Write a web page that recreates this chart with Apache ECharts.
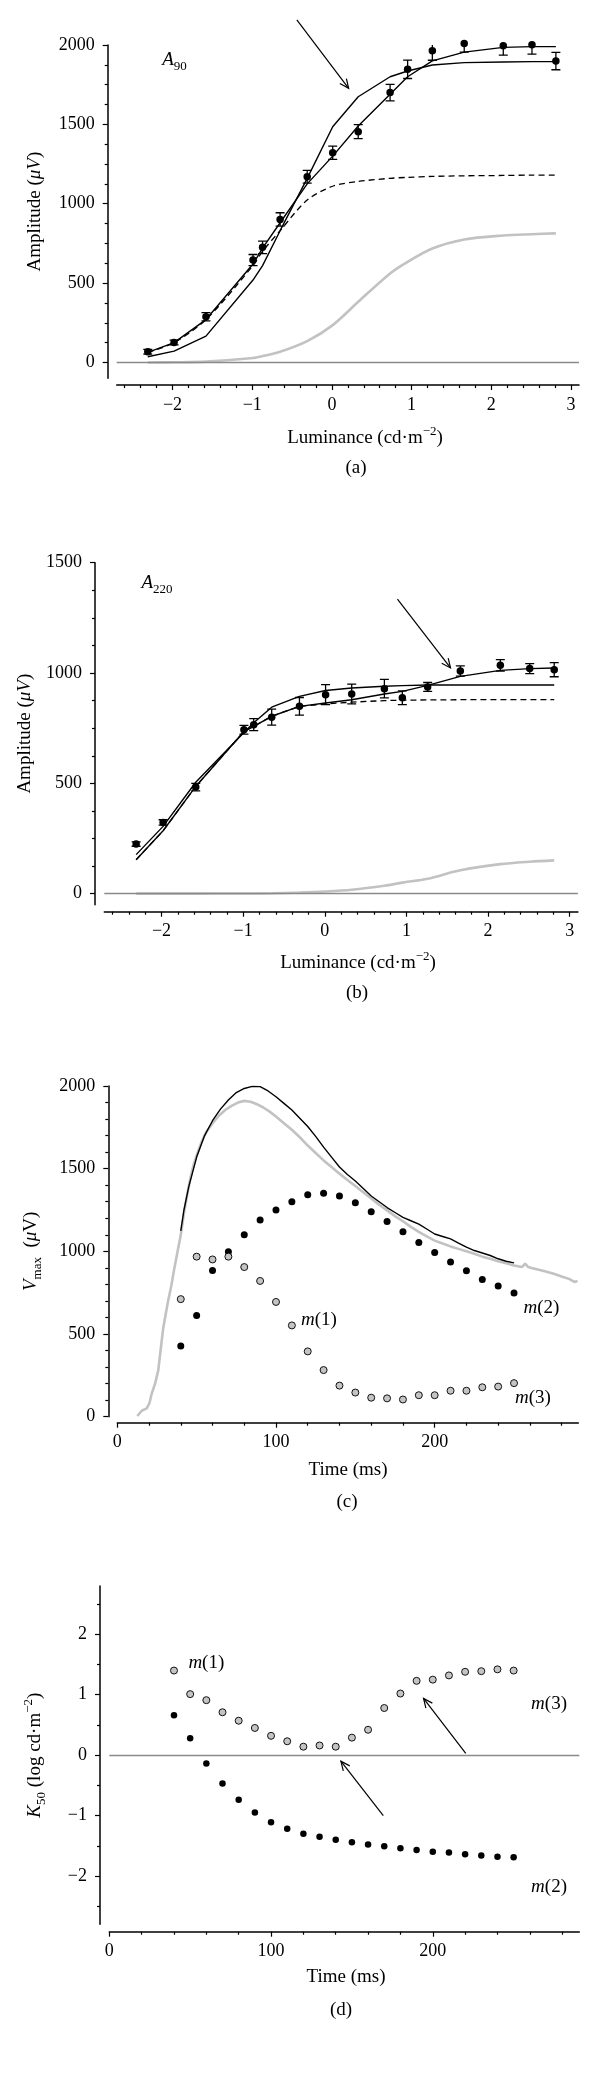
<!DOCTYPE html>
<html><head><meta charset="utf-8">
<script src="https://cdn.jsdelivr.net/npm/echarts@6/dist/echarts.min.js"></script>
<style>html,body{margin:0;padding:0;background:#fff}#c{width:600px;height:2078px}</style>
</head><body><div id="c"></div>
<script>
// ---------- DATA ----------
// Panels (a) and (b): luminance (log cd·m^-2)
const lumX = [-2.31,-1.98,-1.58,-0.99,-0.87,-0.65,-0.31,0.01,0.33,0.73,0.95,1.26,1.66,2.15,2.51,2.81];
const a90Mean = [67,126,288,645,725,901,1170,1321,1454,1700,1847,1964,2010,1996,2002,1899];
const a90Err  = [15,15,26,35,39,42,40,42,44,52,58,60,55,60,60,55];
const a90FitSteep = [36,71,166,519,610,830,1160,1485,1674,1800,1836,1874,1889,1893,1895,1895];
const a90FitData  = [63,125,270,620,720,880,1125,1300,1490,1690,1800,1900,1955,1985,1990,1990];
const a90Dashed   = [63,125,270,610,700,830,1023,1110,1140,1160,1166,1172,1176,1178,1180,1180];
const a90Gray     = [0,1,5,28,40,67,134,235,382,561,634,718,775,800,808,813];

const a220Mean = [225,323,483,743,766,800,849,902,905,929,888,937,1009,1035,1020,1015];
const a220Err  = [10,12,17,20,27,36,40,45,45,42,31,20,23,26,23,32];
const a220FitFlat = [177,305,505,730,775,845,894,921,932,940,943,946,946,946,946,946];
const a220FitData = [154,285,486,735,758,804,849,864,879,905,917,944,985,1012,1020,1023];
const a220Dashed  = [154,285,486,735,758,804,849,860,868,875,877,878,879,879,879,879];
const a220Gray    = [0,0,0,1,1,2,5,10,18,36,50,68,106,134,145,151];

// Panel (c): time (ms)
const tDots = [40,50,60,70,80,90,100,110,120,130,140,150,160,170,180,190,200,210,220,230,240,250];
const vmaxM2 = [428,612,884,997,1101,1189,1250,1300,1342,1352,1335,1294,1239,1181,1118,1053,993,936,882,830,790,748];
const vmaxM13 = [711,968,951,968,905,821,694,552,395,282,188,146,115,111,104,130,130,157,157,178,182,203];
const traceBlackT = [40,42,45,50,55,60,65,70,75,80,85,90,95,100,105,110,115,120,125,130,135,140,145,150,155,160,165,170,175,180,185,190,195,200,205,210,215,220,225,230,235,240,245,250];
const traceBlackV = [1124,1250,1390,1570,1700,1790,1860,1915,1960,1985,1998,1996,1970,1935,1895,1855,1805,1755,1695,1630,1570,1510,1465,1425,1380,1335,1300,1265,1235,1205,1185,1165,1135,1105,1090,1075,1050,1025,1005,990,975,955,940,930];
const traceGrayT = [12.6,15.4,18.5,20.2,21.7,23.8,25.8,27.5,29,30.5,32,34,36,38,40,42,44,46,48,50,53,56,60,64,68,72,76,80,84,88,92,96,100,105,110,115,120,125,130,135,140,145,150,155,160,165,170,175,180,185,190,195,200,205,210,215,220,225,230,235,240,245,250,255,257,259,261,265,270,275,280,285,288,290];
const traceGrayV = [4,36,50,80,140,200,280,420,540,620,700,790,900,1000,1100,1230,1340,1440,1520,1580,1660,1720,1775,1820,1855,1880,1900,1910,1905,1890,1870,1845,1815,1775,1735,1690,1640,1595,1550,1510,1470,1432,1395,1358,1320,1282,1248,1213,1182,1148,1118,1090,1065,1048,1030,1015,1000,985,968,955,940,928,915,905,925,905,900,890,878,865,848,832,815,820];

// Panel (d): K50 (log cd·m^-2)
const k50M13 = [1.40,1.01,0.91,0.71,0.57,0.45,0.32,0.23,0.14,0.16,0.14,0.29,0.42,0.78,1.02,1.23,1.25,1.32,1.38,1.39,1.42,1.40];
const k50M2  = [0.66,0.28,-0.14,-0.47,-0.74,-0.95,-1.11,-1.22,-1.30,-1.35,-1.40,-1.44,-1.48,-1.51,-1.54,-1.57,-1.60,-1.61,-1.64,-1.66,-1.68,-1.69];

// Tick values
const lumMajor = [-2,-1,0,1,2,3];
const lumMinor = [-2.6,-2.4,-2.2,-1.8,-1.6,-1.4,-1.2,-0.8,-0.6,-0.4,-0.2,0.2,0.4,0.6,0.8,1.2,1.4,1.6,1.8,2.2,2.4,2.6,2.8];
const ampAMajor = [0,500,1000,1500,2000];
const ampAMinor = [125,250,375,625,750,875,1125,1250,1375,1625,1750,1875];
const ampBMajor = [0,500,1000,1500];
const ampBMinor = [125,250,375,625,750,875,1125,1250,1375];
const timeMajor = [0,100,200];
const timeMinor = [20,40,60,80,120,140,160,180,220,240,260,280];
const vmaxMajor = [0,500,1000,1500,2000];
const vmaxMinor = [100,200,300,400,600,700,800,900,1100,1200,1300,1400,1600,1700,1800,1900];
const k50Major = [-2,-1,0,1,2];
const k50Minor = [-2.5,-1.5,-0.5,0.5,1.5,2.5];

// Annotations (data coordinates)
const arrowsA = [[-0.44,2158,0.21,1727]];
const arrowsB = [[0.89,1335,1.54,1023]];
const arrowsD = [[169.4,-1.0,143.2,-0.10],[220.4,0.03,194.3,0.94]];
const labelsA = [[-2.13,1905,'{i|A}{sub|90}']];
const labelsB = [[-2.245,1408,'{i|A}{sub|220}']];
const labelsC = [[115.7,585,'{i|m}(1)'],[256,658,'{i|m}(2)'],[250.6,115,'{i|m}(3)']];
const labelsD = [[48.9,1.53,'{i|m}(1)'],[260.8,0.84,'{i|m}(3)'],[260.8,-2.18,'{i|m}(2)']];

// ---------- CHART ----------
const FF = 'Liberation Serif';
const TS = 18, NS = 19;
const rich = {
  i:{fontFamily:FF,fontStyle:'italic',fontSize:NS,lineHeight:26,verticalAlign:'middle',color:'#000',fill:'#000'},
  n:{fontFamily:FF,fontSize:NS,lineHeight:26,verticalAlign:'middle',color:'#000',fill:'#000'},
  sub:{fontFamily:FF,fontSize:13,lineHeight:13,verticalAlign:'bottom',color:'#000',fill:'#000'},
  sup:{fontFamily:FF,fontSize:13,lineHeight:13,verticalAlign:'top',color:'#000',fill:'#000'}
};
const fmt = v => String(v).replace('-', '\u2212');
const pairs = (xs, ys) => xs.map((x,i)=>[x, ys[i]]);

function xAxes(grid, min, max, major, minor, offset){
  const base = {type:'value', gridIndex:grid, min, max, offset, position:'bottom', splitLine:{show:false}};
  return [
    Object.assign({}, base, {
      axisLine:{show:true,onZero:false,lineStyle:{color:'#000',width:1.5}},
      axisTick:{show:true,customValues:major,length:5,lineStyle:{color:'#000',width:1.2}},
      axisLabel:{show:true,customValues:major,formatter:fmt,margin:11,color:'#000',fontFamily:FF,fontSize:TS}
    }),
    Object.assign({}, base, {
      axisLine:{show:false,onZero:false},
      axisTick:{show:true,customValues:minor,length:3,lineStyle:{color:'#000',width:1.2}},
      axisLabel:{show:false}
    })
  ];
}
function yAxes(grid, min, max, major, minor, offset, name, gap){
  const base = {type:'value', gridIndex:grid, min, max, offset, position:'left', splitLine:{show:false}};
  return [
    Object.assign({}, base, {
      name, nameLocation:'middle', nameGap:gap, nameRotate:90,
      nameTextStyle:{fontFamily:FF,fontSize:NS,color:'#000',rich},
      axisLine:{show:true,onZero:false,lineStyle:{color:'#000',width:1.5}},
      axisTick:{show:true,customValues:major,length:5,lineStyle:{color:'#000',width:1.2}},
      axisLabel:{show:true,customValues:major,formatter:fmt,margin:13,color:'#000',fontFamily:FF,fontSize:TS}
    }),
    Object.assign({}, base, {
      axisLine:{show:false,onZero:false},
      axisTick:{show:true,customValues:minor,length:3,lineStyle:{color:'#000',width:1.2}},
      axisLabel:{show:false}
    })
  ];
}

function errRender(params, api){
  const x = api.value(0), y = api.value(1), e = api.value(2);
  const t = api.coord([x, y+e]), b = api.coord([x, y-e]);
  const w = 4.5, st = {stroke:'#000', lineWidth:1.3};
  return {type:'group', children:[
    {type:'line', shape:{x1:t[0],y1:t[1],x2:b[0],y2:b[1]}, style:st},
    {type:'line', shape:{x1:t[0]-w,y1:t[1],x2:t[0]+w,y2:t[1]}, style:st},
    {type:'line', shape:{x1:b[0]-w,y1:b[1],x2:b[0]+w,y2:b[1]}, style:st}
  ]};
}
function arrowRender(params, api){
  const p1 = api.coord([api.value(0), api.value(1)]);
  const p2 = api.coord([api.value(2), api.value(3)]);
  const ang = Math.atan2(p2[1]-p1[1], p2[0]-p1[0]);
  const L = 10, A = 0.42;
  const h1 = [p2[0]-L*Math.cos(ang-A), p2[1]-L*Math.sin(ang-A)];
  const h2 = [p2[0]-L*Math.cos(ang+A), p2[1]-L*Math.sin(ang+A)];
  const st = {stroke:'#000', lineWidth:1.2, fill:null};
  return {type:'group', children:[
    {type:'line', shape:{x1:p1[0],y1:p1[1],x2:p2[0],y2:p2[1]}, style:st},
    {type:'polyline', shape:{points:[h1,p2,h2]}, style:st}
  ]};
}
function labelRenderer(list){
  return function(params, api){
    const p = api.coord([api.value(0), api.value(1)]);
    return {type:'text', x:p[0], y:p[1], style:{text:list[params.dataIndex][2], rich,
      fontFamily:FF, fontSize:NS, fill:'#000', align:'left', verticalAlign:'middle', textAlign:'left', textVerticalAlign:'middle'}};
  };
}

const series = [];
function line(xi, yi, data, color, width, opts){
  series.push(Object.assign({type:'line', xAxisIndex:xi, yAxisIndex:yi, data, symbol:'none', showSymbol:false,
    lineStyle:{color, width}, silent:true, z:2}, opts||{}));
}
function zeroLine(xi, yi){
  series.push({type:'line', xAxisIndex:xi, yAxisIndex:yi, data:[], symbol:'none', silent:true,
    markLine:{silent:true, symbol:['none','none'], label:{show:false}, lineStyle:{color:'#8a8a8a', width:1.3, type:'solid'}, data:[{yAxis:0}]}, z:1});
}
function dots(xi, yi, data, fill, border, size){
  series.push({type:'scatter', xAxisIndex:xi, yAxisIndex:yi, data, symbol:'circle', symbolSize:size, clip:false,
    itemStyle:{color:fill, borderColor:border, borderWidth: border ? 1 : 0, opacity:1}, silent:true, z:5});
}
function errs(xi, yi, xs, ys, es){
  series.push({type:'custom', xAxisIndex:xi, yAxisIndex:yi, data:xs.map((x,i)=>[x,ys[i],es[i]]),
    encode:{x:0,y:1}, renderItem:errRender, clip:true, silent:true, z:4});
}
function arrows(xi, yi, list){
  series.push({type:'custom', xAxisIndex:xi, yAxisIndex:yi, data:list, encode:{x:[0,2],y:[1,3]},
    renderItem:arrowRender, clip:false, silent:true, z:6});
}
function labels(xi, yi, list){
  series.push({type:'custom', xAxisIndex:xi, yAxisIndex:yi, data:list.map(l=>[l[0],l[1]]), encode:{x:0,y:1},
    renderItem:labelRenderer(list), clip:false, silent:true, z:6});
}

// Panel (a): axes 0/1
zeroLine(0,0);
line(0,0,pairs(lumX,a90Gray),'#c2c2c2',2.6,{smooth:0.3});
line(0,0,pairs(lumX,a90Dashed),'#000',1.3,{smooth:0.3,lineStyle:{color:'#000',width:1.3,type:[6,4]}});
line(0,0,pairs(lumX,a90FitSteep),'#000',1.4);
line(0,0,pairs(lumX,a90FitData),'#000',1.4);
errs(0,0,lumX,a90Mean,a90Err);
dots(0,0,pairs(lumX,a90Mean),'#000',null,7.5);
arrows(0,0,arrowsA);
labels(0,0,labelsA);
// Panel (b): axes 2/3
zeroLine(2,2);
line(2,2,pairs(lumX,a220Gray),'#c2c2c2',2.6,{smooth:0.3});
line(2,2,pairs(lumX,a220Dashed),'#000',1.3,{lineStyle:{color:'#000',width:1.3,type:[6,4]}});
line(2,2,pairs(lumX,a220FitFlat),'#000',1.4);
line(2,2,pairs(lumX,a220FitData),'#000',1.4);
errs(2,2,lumX,a220Mean,a220Err);
dots(2,2,pairs(lumX,a220Mean),'#000',null,7.5);
arrows(2,2,arrowsB);
labels(2,2,labelsB);
// Panel (c): axes 4/5
line(4,4,pairs(traceGrayT,traceGrayV),'#c2c2c2',2.6);
line(4,4,pairs(traceBlackT,traceBlackV),'#000',1.4);
dots(4,4,pairs(tDots,vmaxM2),'#000',null,7);
dots(4,4,pairs(tDots,vmaxM13),'#c4c4c4','#111',7);
labels(4,4,labelsC);
// Panel (d): axes 6/7
zeroLine(6,6);
dots(6,6,pairs(tDots,k50M2),'#000',null,6.5);
dots(6,6,pairs(tDots,k50M13),'#c4c4c4','#111',7);
arrows(6,6,arrowsD);
labels(6,6,labelsD);

const option = {
  animation:false,
  backgroundColor:'#fff',
  grid:[
    {left:116.7, top:45,   width:462.3, height:333.3, containLabel:false, outerBoundsMode:'none'},
    {left:104.3, top:562.7,width:473.6, height:342,   containLabel:false, outerBoundsMode:'none'},
    {left:117.3, top:1086, width:461,   height:330.7, containLabel:false, outerBoundsMode:'none'},
    {left:109.3, top:1586, width:470,   height:338.3, containLabel:false, outerBoundsMode:'none'}
  ],
  xAxis:[].concat(
    xAxes(0,-2.7,3.1,lumMajor,lumMinor,6.7),
    xAxes(1,-2.7,3.1,lumMajor,lumMinor,7),
    xAxes(2,0,290.5,timeMajor,timeMinor,6),
    xAxes(3,0,290.6,timeMajor,timeMinor,7.4)
  ),
  yAxis:[].concat(
    yAxes(0,-100,2000,ampAMajor,ampAMinor,9,'{n|Amplitude (}{i|\u03bcV}{n|)}',60),
    yAxes(1,-50,1500,ampBMajor,ampBMinor,9.3,'{n|Amplitude (}{i|\u03bcV}{n|)}',57),
    yAxes(2,0,2000,vmaxMajor,vmaxMinor,9,'{i|V}{sub|max}{n|  (}{i|\u03bc}{n|V)}',64),
    yAxes(3,-2.8,2.8,k50Major,k50Minor,9.3,'{i|K}{sub|50}{n| (log cd\u00b7m}{sup|\u22122}{n|)}',52)
  ),
  graphic:[
    {type:'text', x:365, y:438, style:{text:'{n|Luminance (cd\u00b7m}{sup|\u22122}{n|)}', rich, fontFamily:FF, fontSize:NS, fill:'#000', align:'center', verticalAlign:'middle', textAlign:'center', textVerticalAlign:'middle'}},
    {type:'text', x:356, y:468, style:{text:'(a)', fontFamily:FF, fontSize:NS, fill:'#000', align:'center', verticalAlign:'middle', textAlign:'center', textVerticalAlign:'middle'}},
    {type:'text', x:358, y:963, style:{text:'{n|Luminance (cd\u00b7m}{sup|\u22122}{n|)}', rich, fontFamily:FF, fontSize:NS, fill:'#000', align:'center', verticalAlign:'middle', textAlign:'center', textVerticalAlign:'middle'}},
    {type:'text', x:357, y:993, style:{text:'(b)', fontFamily:FF, fontSize:NS, fill:'#000', align:'center', verticalAlign:'middle', textAlign:'center', textVerticalAlign:'middle'}},
    {type:'text', x:348, y:1470, style:{text:'Time (ms)', fontFamily:FF, fontSize:NS, fill:'#000', align:'center', verticalAlign:'middle', textAlign:'center', textVerticalAlign:'middle'}},
    {type:'text', x:347, y:1502, style:{text:'(c)', fontFamily:FF, fontSize:NS, fill:'#000', align:'center', verticalAlign:'middle', textAlign:'center', textVerticalAlign:'middle'}},
    {type:'text', x:346, y:1977, style:{text:'Time (ms)', fontFamily:FF, fontSize:NS, fill:'#000', align:'center', verticalAlign:'middle', textAlign:'center', textVerticalAlign:'middle'}},
    {type:'text', x:341, y:2010, style:{text:'(d)', fontFamily:FF, fontSize:NS, fill:'#000', align:'center', verticalAlign:'middle', textAlign:'center', textVerticalAlign:'middle'}}
  ],
  series
};
const chart = echarts.init(document.getElementById('c'), null, {renderer:'canvas', width:600, height:2078});
chart.setOption(option);
</script></body></html>
